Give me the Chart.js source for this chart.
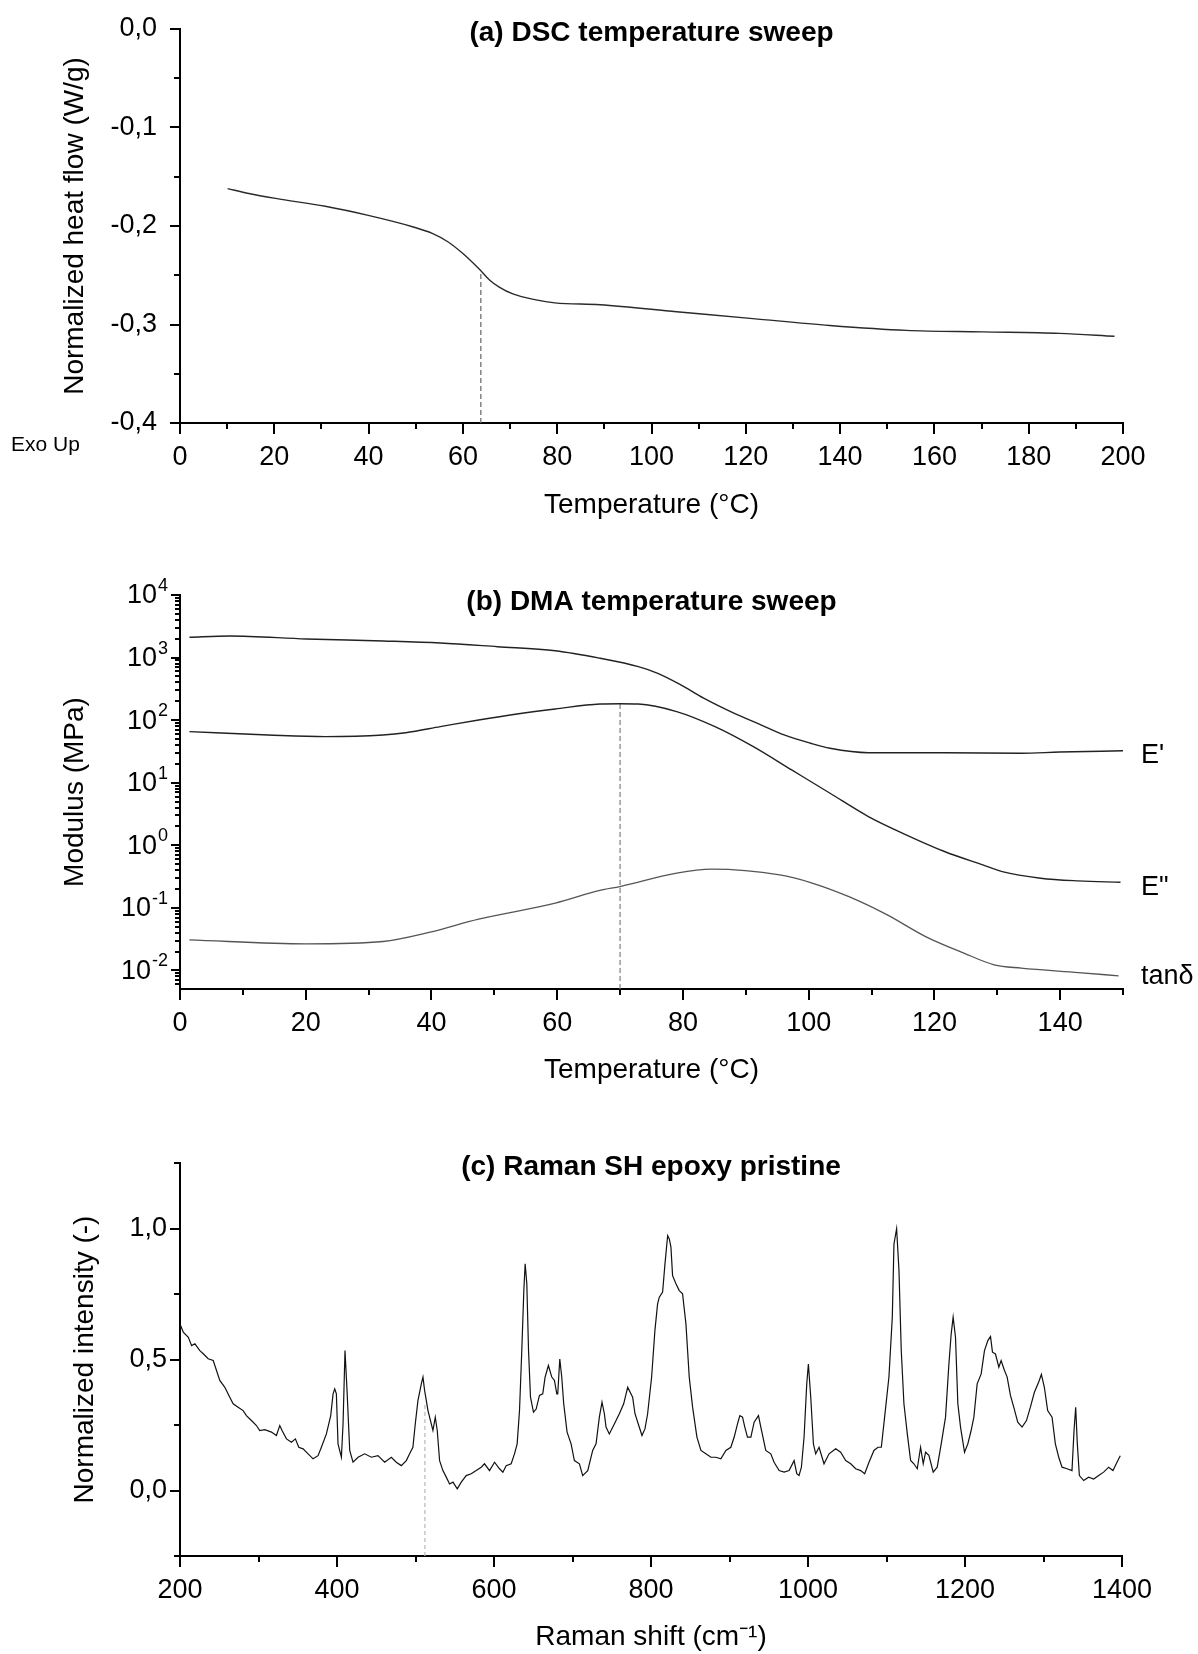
<!DOCTYPE html>
<html>
<head>
<meta charset="utf-8">
<title>DSC / DMA / Raman</title>
<script src="https://cdn.jsdelivr.net/npm/chart.js@4.4.1/dist/chart.umd.min.js"></script>
<style>
    body { margin: 0; background: #fff; width: 1198px; height: 1654px; position: relative; overflow: hidden; }
    canvas { position: absolute; left: 0; }
    #dsc { top: 0; }
    #dma { top: 530px; }
    #raman { top: 1100px; }
</style>
</head>
<body>
<canvas id="dsc" width="1198" height="530"></canvas>
<canvas id="dma" width="1198" height="570"></canvas>
<canvas id="raman" width="1198" height="554"></canvas>
<script>
// (a) DSC temperature sweep
var dscTemp = [10.1, 14.6, 20.3, 30.8, 39.7, 49.5, 53.5, 56.8, 60.0, 63.3, 65.7, 67.7, 70.6, 75.5, 79.5, 89.1, 105.3, 121.5, 137.8, 154.0, 170.2, 186.5, 198.2];
var dscHeatFlow = [-0.162, -0.167, -0.172, -0.180, -0.189, -0.201, -0.2075, -0.216, -0.228, -0.243, -0.255, -0.262, -0.269, -0.275, -0.278, -0.280, -0.287, -0.294, -0.301, -0.306, -0.3075, -0.309, -0.312];
var dscTg = 63.8;
var dscTgFlow = -0.248;
var dscTicksX = [0, 20, 40, 60, 80, 100, 120, 140, 160, 180, 200];
var dscTicksY = [0, -0.1, -0.2, -0.3, -0.4];

// (b) DMA temperature sweep
var storageTemp = [1.5, 7.9, 20.1, 32.3, 41.4, 50.5, 59.7, 66.8, 72.9, 76.0, 79.6, 83.3, 88.1, 92.4, 96.1, 100.3, 103.4, 109.5, 121.6, 133.8, 139.9, 150.0];
var storageModulus = [2110, 2213, 1982, 1841, 1710, 1493, 1288, 975, 716, 561, 370, 224, 129, 84, 58, 42.7, 35.5, 30.2, 30.2, 29.6, 30.9, 32.4];
var lossTemp = [1.5, 14.0, 23.1, 32.3, 35.9, 41.4, 47.5, 53.6, 59.7, 66.8, 70.0, 72.9, 79.0, 85.1, 91.2, 97.3, 103.4, 109.5, 115.5, 121.6, 127.7, 130.8, 136.9, 142.9, 149.6];
var lossModulus = [65.5, 58, 54.6, 58, 63, 78.7, 100.7, 125.6, 151, 181, 183, 181, 137, 78.7, 37.7, 16, 6.79, 2.88, 1.47, 0.795, 0.486, 0.38, 0.298, 0.27, 0.257];
var tanTemp = [1.5, 20.1, 32.3, 39.6, 47.5, 59.7, 66.8, 70.0, 79.0, 84.5, 95.4, 100.3, 106.4, 112.5, 118.6, 124.7, 129.5, 133.8, 142.9, 149.3];
var tanDelta = [0.0308, 0.0266, 0.029, 0.0404, 0.066, 0.119, 0.19, 0.219, 0.358, 0.415, 0.336, 0.254, 0.151, 0.0773, 0.0348, 0.0189, 0.0123, 0.0109, 0.00925, 0.0082];
var dmaPeak = 70.0;
var dmaPeakModulus = 183;
var dmaTicksX = [0, 20, 40, 60, 80, 100, 120, 140];
var dmaTicksY = [0.01, 0.1, 1, 10, 100, 1000, 10000];
var dmaMinY = 0.00505;

// (c) Raman SH epoxy pristine
var ramanShift = [200.0, 204.2, 210.6, 214.8, 219.0, 225.3, 229.6, 235.9, 242.3, 246.5, 250.7, 257.1, 263.4, 267.7, 274.0, 280.4, 284.6, 291.0, 297.4, 301.6, 308.0, 316.5, 322.8, 327.1, 330.0, 335.6, 342.0, 347.0, 351.3, 356.8, 363.2, 369.5, 375.9, 380.1, 386.5, 392.0, 395.0, 397.1, 399.2, 401.3, 405.6, 407.7, 410.2, 412.8, 416.2, 420.4, 426.8, 435.3, 443.7, 452.2, 460.7, 469.2, 475.5, 481.9, 488.3, 492.5, 496.7, 499.7, 503.1,
    507.4, 509.5, 511.6, 515.9, 520.1, 522.2, 525.2, 527.7, 530.7, 534.9, 539.2, 543.4, 547.7, 553.2, 558.3, 564.6, 571.0, 577.3, 583.7, 587.9, 594.3, 600.7, 607.0, 611.3, 615.5, 621.9, 626.1, 629.5, 632.5, 635.4, 638.0, 639.7, 641.8, 644.0, 646.5, 650.3, 653.7, 657.9, 662.1, 665.1, 669.3, 673.6, 677.0, 680.0, 681.2, 683.8, 686.3, 688.8, 693.1, 698.2, 702.4, 708.8, 713.0, 719.4, 725.7, 730.0, 734.2, 737.6, 740.6, 742.7, 746.9, 753.3, 759.7, 765.2, 770.3, 776.6, 779.6, 783.8, 788.5, 792.3, 795.7, 800.8, 805.0,
    808.4, 810.6, 814.8, 817.8, 821.2, 823.3, 825.4, 827.5, 831.8, 836.0, 840.2, 844.5, 848.7, 853.0, 858.5, 863.6, 869.9, 876.3, 882.6, 889.0, 895.4, 901.7, 906.0, 910.2, 913.2, 916.6, 919.5, 922.9, 927.2, 931.4, 936.9, 939.9, 946.2, 952.6, 956.8, 963.2, 969.6, 975.9, 982.3, 985.7, 988.6, 991.6, 995.0, 998.4, 1000.5, 1003.5, 1006.9, 1009.8, 1014.1, 1020.4, 1026.8, 1035.3, 1041.6, 1048.0, 1054.4, 1060.7, 1067.1, 1072.2, 1077.7, 1084.0, 1089.1, 1093.4, 1097.6, 1103.1, 1107.4,
    1109.5, 1112.9, 1115.9, 1118.8, 1122.2, 1126.5, 1130.7, 1134.9, 1139.2, 1143.4, 1146.8, 1149.8, 1154.0, 1159.5, 1164.6, 1169.7, 1175.2, 1179.5, 1182.4, 1184.9, 1187.9, 1190.9, 1194.3, 1199.4, 1203.6, 1207.8, 1211.3, 1215.5, 1220.6, 1224.8, 1229.1, 1232.5, 1235.0, 1238.8, 1243.1, 1246.0, 1250.3, 1253.7, 1257.9, 1262.1, 1267.2, 1272.7, 1278.3, 1283.3, 1288.4, 1293.9, 1297.3, 1301.1, 1305.3, 1310.9, 1315.1, 1319.4, 1323.6, 1330.0, 1336.3, 1338.9, 1341.0, 1343.1, 1345.7, 1351.2, 1357.5, 1363.9, 1370.3, 1376.6, 1383.0, 1388.5, 1392.7, 1397.8];
var ramanIntensity = [0.636, 0.604, 0.585, 0.553, 0.560, 0.534, 0.522, 0.503, 0.496, 0.458, 0.420, 0.394, 0.356, 0.331, 0.318, 0.305, 0.286, 0.267, 0.248, 0.229, 0.232, 0.223, 0.210, 0.248, 0.229, 0.197, 0.184, 0.197, 0.165, 0.159, 0.140, 0.121, 0.133, 0.165, 0.216, 0.286, 0.369, 0.388, 0.369, 0.178, 0.127, 0.254, 0.534, 0.381, 0.153, 0.108, 0.127, 0.140, 0.127, 0.133, 0.108, 0.127, 0.108, 0.095, 0.114, 0.140, 0.165, 0.254, 0.343,
    0.407, 0.433, 0.382, 0.305, 0.254, 0.229, 0.280, 0.229, 0.114, 0.076, 0.051, 0.025, 0.032, 0.006, 0.032, 0.057, 0.064, 0.076, 0.089, 0.102, 0.076, 0.108, 0.083, 0.070, 0.095, 0.102, 0.140, 0.178, 0.305, 0.534, 0.763, 0.865, 0.789, 0.534, 0.356, 0.299, 0.311, 0.363, 0.369, 0.433, 0.477, 0.433, 0.420, 0.369, 0.369, 0.502, 0.433, 0.331, 0.223, 0.178, 0.114, 0.102, 0.057, 0.076, 0.153, 0.178, 0.280, 0.337, 0.293, 0.242, 0.216, 0.254, 0.293, 0.331, 0.394, 0.356, 0.293, 0.254, 0.210, 0.235, 0.293, 0.433, 0.611,
    0.712, 0.738, 0.757, 0.865, 0.973, 0.960, 0.929, 0.820, 0.789, 0.763, 0.751, 0.636, 0.433, 0.318, 0.204, 0.153, 0.140, 0.127, 0.127, 0.121, 0.153, 0.165, 0.204, 0.254, 0.286, 0.280, 0.242, 0.204, 0.204, 0.261, 0.286, 0.242, 0.153, 0.140, 0.108, 0.076, 0.070, 0.076, 0.114, 0.064, 0.057, 0.089, 0.204, 0.407, 0.483, 0.356, 0.178, 0.140, 0.165, 0.102, 0.140, 0.159, 0.146, 0.114, 0.102, 0.083, 0.076, 0.064, 0.108, 0.153, 0.165, 0.165, 0.280, 0.433, 0.662,
    0.941, 0.999, 0.840, 0.534, 0.331, 0.216, 0.115, 0.102, 0.083, 0.165, 0.102, 0.146, 0.134, 0.070, 0.089, 0.178, 0.280, 0.483, 0.598, 0.662, 0.585, 0.331, 0.242, 0.146, 0.178, 0.229, 0.280, 0.407, 0.445, 0.534, 0.572, 0.588, 0.528, 0.521, 0.471, 0.496, 0.458, 0.433, 0.363, 0.318, 0.261, 0.242, 0.267, 0.318, 0.375, 0.414, 0.443, 0.394, 0.305, 0.280, 0.178, 0.127, 0.089, 0.083, 0.076, 0.229, 0.318, 0.178, 0.057, 0.038, 0.051, 0.044, 0.057, 0.070, 0.089, 0.076, 0.102, 0.133];
var ramanMark = 512;
var ramanMarkTop = 0.33;
var ramanTicksX = [200, 400, 600, 800, 1000, 1200, 1400];
var ramanTicksY = [0, 0.5, 1.0];

var FONT = '"Liberation Sans", Arial, Helvetica, sans-serif';

function pts(xs, ys) {
    return xs.map(function (x, i) { return {x: x, y: ys[i]}; });
}

function commaLabel(v) {
    return v.toFixed(1).replace('.', ',');
}

// halfway ticks between labelled ones
function midpoints(arr, extra) {
    var out = [];
    for (var i = 0; i < arr.length - 1; i++) out.push((arr[i] + arr[i + 1]) / 2);
    return out.concat(extra || []);
}

function logMinors(min, max) {
    var out = [];
    for (var d = -3; d <= 4; d++) {
        for (var m = 2; m <= 9; m++) {
            var v = m * Math.pow(10, d);
            if (v >= min && v <= max) out.push(v);
        }
    }
    return out;
}

// tick marks, panel titles, power-of-ten labels and curve labels
var decor = {
    id: 'decor',
    afterDraw: function (chart, args, o) {
        var ctx = chart.ctx, area = chart.chartArea;
        var xs = chart.scales.x, ys = chart.scales.y;
        ctx.save();
        ctx.strokeStyle = '#000';
        ctx.lineWidth = 2;
        ctx.beginPath();
        o.xMajor.forEach(function (v) {
            var p = Math.round(xs.getPixelForValue(v));
            ctx.moveTo(p, area.bottom); ctx.lineTo(p, area.bottom + 11);
        });
        o.xMinor.forEach(function (v) {
            var p = Math.round(xs.getPixelForValue(v));
            ctx.moveTo(p, area.bottom); ctx.lineTo(p, area.bottom + 6);
        });
        o.yMajor.forEach(function (v) {
            var p = Math.round(ys.getPixelForValue(v));
            ctx.moveTo(area.left, p); ctx.lineTo(area.left - o.yMajorLen, p);
        });
        o.yMinor.forEach(function (v) {
            var p = Math.round(ys.getPixelForValue(v));
            ctx.moveTo(area.left, p); ctx.lineTo(area.left - o.yMinorLen, p);
        });
        ctx.stroke();

        ctx.fillStyle = '#000';
        ctx.textBaseline = 'middle';
        ctx.textAlign = 'center';
        ctx.font = 'bold 28px ' + FONT;
        ctx.fillText(o.title, (area.left + area.right) / 2, area.top + o.titleDy);

        if (o.powerLabels) {
            ctx.textAlign = 'right';
            o.yMajor.forEach(function (v) {
                var p = ys.getPixelForValue(v);
                var exp = String(Math.round(Math.log10(v)));
                var right = area.left - 12;
                ctx.font = '18px ' + FONT;
                var w = ctx.measureText(exp).width;
                ctx.fillText(exp, right, p - 9);
                ctx.font = '27px ' + FONT;
                ctx.fillText('10', right - w - 1, p + 1);
            });
        }

        ctx.textAlign = 'left';
        ctx.font = '27px ' + FONT;
        (o.endLabels || []).forEach(function (lab) {
            var meta = chart.getDatasetMeta(lab.dataset);
            var last = meta.data[meta.data.length - 1];
            ctx.fillText(lab.text, area.right + 18, last.y + lab.dy);
        });
        (o.notes || []).forEach(function (n) {
            ctx.font = n.size + 'px ' + FONT;
            ctx.fillText(n.text, n.x, area.bottom + n.dy);
        });
        ctx.restore();
    }
};

function xAxis(min, max, ticks, height, title, titlePad) {
    return {
        type: 'linear', min: min, max: max,
        afterBuildTicks: function (s) { s.ticks = ticks.map(function (v) { return {value: v}; }); },
        afterFit: function (s) { s.height = height; s.paddingLeft = 0; s.paddingRight = 0; },
        grid: {display: false, drawTicks: false},
        border: {display: true, color: '#000', width: 2},
        ticks: {padding: 18, color: '#000', autoSkip: false, maxRotation: 0, font: {family: FONT, size: 27},
            callback: function (v) { return String(v); }},
        title: {display: true, text: title, color: '#000', font: {family: FONT, size: 28}, padding: {top: 0, bottom: titlePad}}
    };
}

function yAxis(type, min, max, ticks, fmt, labelPad, title, titlePad) {
    return {
        type: type, min: min, max: max,
        afterBuildTicks: function (s) { s.ticks = ticks.map(function (v) { return {value: v}; }); },
        afterFit: function (s) { s.width = 180; s.paddingTop = 0; s.paddingBottom = 0; },
        grid: {display: false, drawTicks: false},
        border: {display: true, color: '#000', width: 2},
        ticks: {padding: labelPad, color: '#000', autoSkip: false, font: {family: FONT, size: 27}, callback: fmt},
        title: {display: true, text: title, color: '#000', font: {family: FONT, size: 28}, padding: {top: titlePad, bottom: 0}}
    };
}

var common = {
    responsive: false,
    animation: false,
    events: []
};

new Chart(document.getElementById('dsc'), {
    type: 'line',
    data: {
        datasets: [{
            data: pts(dscTemp, dscHeatFlow),
            borderColor: '#2a2a2a', borderWidth: 1.4, pointRadius: 0, cubicInterpolationMode: 'monotone'
        }, {
            data: [{x: dscTg, y: -0.4}, {x: dscTg, y: dscTgFlow}],
            borderColor: '#707070', borderWidth: 1.3, borderDash: [5, 3], pointRadius: 0
        }]
    },
    options: Object.assign({}, common, {
        layout: {padding: {top: 29, right: 75, left: 0, bottom: 0}},
        plugins: {
            legend: {display: false}, tooltip: {enabled: false},
            decor: {
                title: '(a) DSC temperature sweep', titleDy: 4,
                xMajor: dscTicksX, xMinor: midpoints(dscTicksX),
                yMajor: dscTicksY, yMinor: midpoints(dscTicksY), yMajorLen: 10, yMinorLen: 6,
                notes: [{text: 'Exo Up', x: 11, dy: 22, size: 21}]
            }
        },
        scales: {
            x: xAxis(0, 200, dscTicksX, 107, 'Temperature (°C)', 8),
            y: yAxis('linear', -0.4, 0, dscTicksY, commaLabel, 23, 'Normalized heat flow (W/g)', 58)
        }
    }),
    plugins: [decor]
});

new Chart(document.getElementById('dma'), {
    type: 'line',
    data: {
        datasets: [{
            data: pts(storageTemp, storageModulus),
            borderColor: '#222', borderWidth: 1.4, pointRadius: 0, cubicInterpolationMode: 'monotone'
        }, {
            data: pts(lossTemp, lossModulus),
            borderColor: '#222', borderWidth: 1.4, pointRadius: 0, cubicInterpolationMode: 'monotone'
        }, {
            data: pts(tanTemp, tanDelta),
            borderColor: '#555', borderWidth: 1.3, pointRadius: 0, cubicInterpolationMode: 'monotone'
        }, {
            data: [{x: dmaPeak, y: dmaMinY}, {x: dmaPeak, y: dmaPeakModulus}],
            borderColor: '#808080', borderWidth: 1.2, borderDash: [5, 3], pointRadius: 0
        }]
    },
    options: Object.assign({}, common, {
        layout: {padding: {top: 65, right: 75, left: 0, bottom: 0}},
        plugins: {
            legend: {display: false}, tooltip: {enabled: false},
            decor: {
                title: '(b) DMA temperature sweep', titleDy: 7, powerLabels: true,
                xMajor: dmaTicksX, xMinor: midpoints(dmaTicksX, [150]),
                yMajor: dmaTicksY, yMinor: logMinors(dmaMinY, 10000), yMajorLen: 9, yMinorLen: 5,
                endLabels: [{dataset: 0, text: "E'", dy: 5}, {dataset: 1, text: 'E"', dy: 5}, {dataset: 2, text: 'tan\u03B4', dy: 1}]
            }
        },
        scales: {
            x: xAxis(0, 150, dmaTicksX, 111, 'Temperature (°C)', 13),
            y: yAxis('logarithmic', dmaMinY, 10000, dmaTicksY, function () { return ''; }, 12, 'Modulus (MPa)', 58)
        }
    }),
    plugins: [decor]
});

new Chart(document.getElementById('raman'), {
    type: 'line',
    data: {
        datasets: [{
            data: pts(ramanShift, ramanIntensity),
            borderColor: '#111', borderWidth: 1.2, pointRadius: 0
        }, {
            data: [{x: ramanMark, y: -0.25}, {x: ramanMark, y: ramanMarkTop}],
            borderColor: '#b8b8b8', borderWidth: 1.2, borderDash: [4, 3], pointRadius: 0
        }]
    },
    options: Object.assign({}, common, {
        layout: {padding: {top: 63, right: 76, left: 0, bottom: 0}},
        plugins: {
            legend: {display: false}, tooltip: {enabled: false},
            decor: {
                title: '(c) Raman SH epoxy pristine', titleDy: 4,
                xMajor: ramanTicksX, xMinor: midpoints(ramanTicksX),
                yMajor: ramanTicksY, yMinor: midpoints(ramanTicksY, [-0.25, 1.25]), yMajorLen: 10, yMinorLen: 6
            }
        },
        scales: {
            x: xAxis(200, 1400, ramanTicksX, 98, 'Raman shift (cm\u207B\u00B9)', 0),
            y: yAxis('linear', -0.25, 1.25, ramanTicksY, commaLabel, 13, 'Normalized intensity (-)', 68)
        }
    }),
    plugins: [decor]
});
</script>
</body>
</html>
